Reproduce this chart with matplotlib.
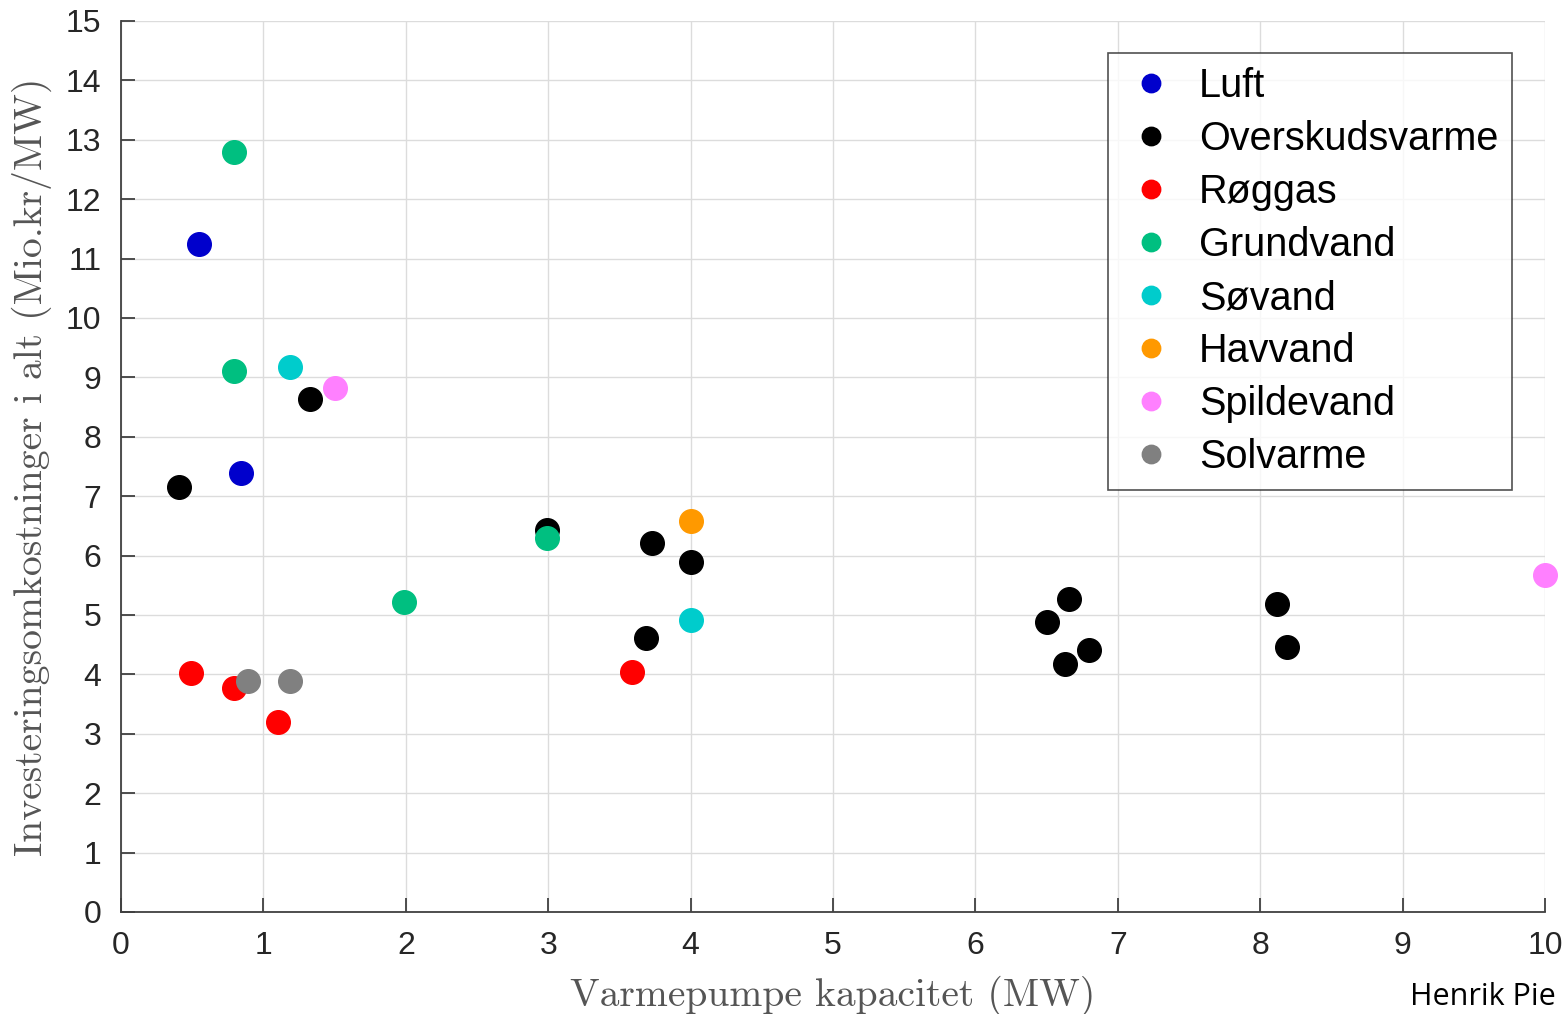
import numpy as np
import matplotlib.pyplot as plt

# data (MW, Mio.kr/MW)
luft_x = [0.55, 0.84]
luft_y = [11.25, 7.39]
overskud_x = [0.41, 1.33, 2.99, 3.73, 4.0, 3.69, 6.50, 6.66, 6.63, 6.80, 8.12, 8.19]
overskud_y = [7.15, 8.64, 6.43, 6.21, 5.89, 4.61, 4.88, 5.27, 4.18, 4.41, 5.18, 4.46]
roggas_x = [0.49, 0.79, 1.10, 3.59]
roggas_y = [4.02, 3.77, 3.20, 4.04]
grund_x = [0.79, 0.79, 1.99, 2.99]
grund_y = [12.79, 9.11, 5.22, 6.30]
soe_x = [1.19, 4.0]
soe_y = [9.18, 4.92]
hav_x = [4.0]
hav_y = [6.58]
spilde_x = [1.50, 10.0]
spilde_y = [8.82, 5.67]
sol_x = [0.89, 1.19]
sol_y = [3.89, 3.89]

series = [
    ('Luft', luft_x, luft_y, '#0000CC'),
    ('Overskudsvarme', overskud_x, overskud_y, '#000000'),
    ('Røggas', roggas_x, roggas_y, '#FF0000'),
    ('Grundvand', grund_x, grund_y, '#00BF80'),
    ('Søvand', soe_x, soe_y, '#00CCCC'),
    ('Havvand', hav_x, hav_y, '#FF9900'),
    ('Spildevand', spilde_x, spilde_y, '#FF80FF'),
    ('Solvarme', sol_x, sol_y, '#808080'),
]

plt.rcParams['font.family'] = ['Liberation Sans', 'DejaVu Sans']
fig = plt.figure(figsize=(15.68, 10.14), dpi=100)
ax = fig.add_axes([0.0772, 0.1006, 0.9081, 0.8787])

for name, xs, ys, col in series:
    ax.plot(xs, ys, 'o', color=col, markersize=17, label=name, clip_on=False, zorder=3)

ax.set_xlim(0, 10)
ax.set_ylim(0, 15)
ax.set_xticks(np.arange(0, 11, 1))
ax.set_yticks(np.arange(0, 16, 1))
ax.grid(True, color='#dcdcdc', linewidth=1.0)
ax.set_axisbelow(True)
for s in ['top', 'right']:
    ax.spines[s].set_visible(False)
for s in ['left', 'bottom']:
    ax.spines[s].set_color('#404040')
    ax.spines[s].set_linewidth(1.3)
ax.tick_params(direction='in', length=10, width=1.3, colors='#404040',
               labelsize=23, labelcolor='#262626', pad=14)

ax.set_xlabel('Varmepumpe kapacitet (MW)', fontfamily='cmr10', fontsize=28.5,
              color='#555555', labelpad=10)
ax.set_ylabel('Investeringsomkostninger i alt (Mio.kr/MW)', fontfamily='cmr10',
              fontsize=28.5, color='#555555', labelpad=10)

leg = ax.legend(loc='upper right', bbox_to_anchor=(0.977, 0.964), borderaxespad=0,
                fontsize=28.5, frameon=True, fancybox=False, edgecolor='#262626',
                markerscale=0.78, handletextpad=0.45, labelspacing=0.38,
                borderpad=0.35, handlelength=1.5)
leg.get_frame().set_linewidth(1.2)

fig.text(0.899, 0.002, 'Henrik Pie', fontsize=22, fontfamily='Open Sans',
         color='black', va='bottom', ha='left')

plt.savefig('out.png')
